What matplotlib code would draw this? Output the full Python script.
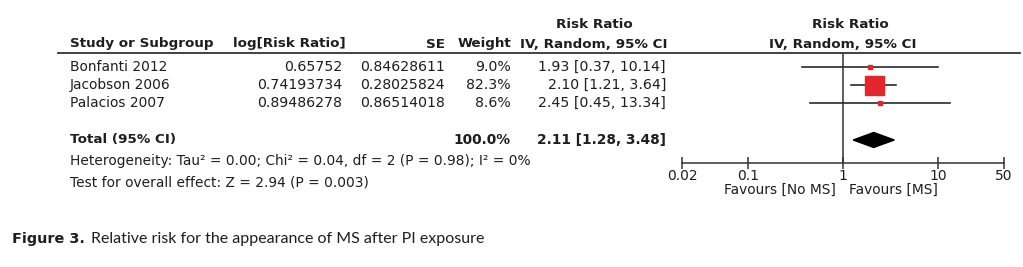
import matplotlib
matplotlib.use("Agg")
import matplotlib.pyplot as plt
import matplotlib.transforms as mtransforms
from matplotlib.lines import Line2D
from matplotlib.patches import Polygon
import numpy as np

# ---------------- data ----------------
studies = ["Bonfanti 2012", "Jacobson 2006", "Palacios 2007"]
log_rr = ["0.65752", "0.74193734", "0.89486278"]
se = ["0.84628611", "0.28025824", "0.86514018"]
weights = [9.0, 82.3, 8.6]
rr = [1.93, 2.10, 2.45]
ci_low = [0.37, 1.21, 0.45]
ci_high = [10.14, 3.64, 13.34]
total_weight = 100.0
total_rr = 2.11
total_low = 1.28
total_high = 3.48
heterogeneity = "Heterogeneity: Tau\u00b2 = 0.00; Chi\u00b2 = 0.04, df = 2 (P = 0.98); I\u00b2 = 0%"
overall = "Test for overall effect: Z = 2.94 (P = 0.003)"
xticks = [0.02, 0.1, 1, 10, 50]
xtick_labels = ["0.02", "0.1", "1", "10", "50"]
favours_left = "Favours [No MS]"
favours_right = "Favours [MS]"
caption_bold = "Figure 3."
caption_text = "Relative risk for the appearance of MS after PI exposure"

# ---------------- style ----------------
W, H = 1023, 267
DPI = 100
TXT = "#1e1e1e"
RED = "#e3262b"
FONT = "DejaVu Sans"
FS_BOLD = 9.7
FS_TXT = 9.9
FS_NUM = 10.2
marker_px = [4.5, 19, 4.5]

fig = plt.figure(figsize=(W / DPI, H / DPI), dpi=DPI)
fig.patch.set_facecolor("white")

# pixel transform (origin top-left)
px = mtransforms.Affine2D().scale(1 / W, -1 / H).translate(0, 1) + fig.transFigure

row_y0, row_dy = 67, 17.8
top_px, axis_px = 53, 163
x_left_px, x_right_px = 682, 1004

ax = fig.add_axes([x_left_px / W, 1 - axis_px / H,
                   (x_right_px - x_left_px) / W, (axis_px - top_px) / H])
ax.set_xscale("log")
ax.set_xlim(xticks[0], xticks[-1])
ax.set_ylim((axis_px - row_y0) / row_dy, (top_px - row_y0) / row_dy)
ax.patch.set_alpha(0)
for s in ["top", "left", "right"]:
    ax.spines[s].set_visible(False)
ax.spines["bottom"].set_color("#333333")
ax.spines["bottom"].set_linewidth(1.1)
ax.set_yticks([])
ax.set_xticks(xticks)
ax.set_xticklabels(xtick_labels, fontsize=10, color=TXT, family=FONT)
ax.xaxis.set_minor_locator(matplotlib.ticker.NullLocator())
ax.tick_params(axis="x", direction="inout", length=9, width=1.1, color="#333333", pad=0)

ax.axvline(1, color="#333333", lw=1.1, zorder=1)

rows = np.arange(len(studies))
for i, y in enumerate(rows):
    ax.plot([ci_low[i], ci_high[i]], [y, y], color="#2a2a2a", lw=1.2, zorder=2)
    ax.plot([rr[i]], [y], marker="s", ms=marker_px[i] * 72 / DPI,
            color=RED, mec=RED, zorder=3, ls="none")

total_row = 4.1
dh = 7.5 / row_dy
diamond = Polygon([[total_low, total_row], [total_rr, total_row - dh],
                   [total_high, total_row], [total_rr, total_row + dh]],
                  closed=True, facecolor="black", edgecolor="black", zorder=3)
ax.add_patch(diamond)

# row-based transform for table text
row_tr = mtransforms.blended_transform_factory(px, ax.transData)

def t(x, y, s, ha="left", bold=False, tr=row_tr, size=FS_TXT, va="center", family=FONT):
    fig.text(x, y, s, transform=tr, ha=ha, va=va, fontsize=size, color=TXT,
             family=family, fontweight="bold" if bold else "normal")

# headers
t(70, 44, "Study or Subgroup", bold=True, tr=px, size=FS_BOLD)
t(233, 44, "log[Risk Ratio]", bold=True, tr=px, size=FS_BOLD)
t(445, 44, "SE", ha="right", bold=True, tr=px, size=FS_BOLD)
t(511, 44, "Weight", ha="right", bold=True, tr=px, size=FS_BOLD)
t(594, 25, "Risk Ratio", ha="center", bold=True, tr=px, size=FS_BOLD)
t(594, 44, "IV, Random, 95% CI", ha="center", bold=True, tr=px, size=FS_BOLD)
t(850, 25, "Risk Ratio", ha="center", bold=True, tr=px, size=FS_BOLD)
t(843, 44, "IV, Random, 95% CI", ha="center", bold=True, tr=px, size=FS_BOLD)

fig.add_artist(Line2D([58 / W, 1020 / W], [1 - top_px / H, 1 - top_px / H],
                      transform=fig.transFigure, color="#333333", lw=1.3))

for i, y in enumerate(rows):
    t(70, y, studies[i])
    t(342, y, log_rr[i], ha="right", size=FS_NUM)
    t(445, y, se[i], ha="right", size=FS_NUM)
    t(511, y, f"{weights[i]:.1f}%", ha="right", size=FS_NUM)
    t(666, y, f"{rr[i]:.2f} [{ci_low[i]:.2f}, {ci_high[i]:.2f}]", ha="right", size=FS_NUM)

t(70, total_row, "Total (95% CI)", bold=True, size=FS_BOLD)
t(511, total_row, f"{total_weight:.1f}%", ha="right", bold=True, size=FS_BOLD + 0.2)
t(666, total_row, f"{total_rr:.2f} [{total_low:.2f}, {total_high:.2f}]", ha="right",
  bold=True, size=FS_BOLD + 0.2)

t(70, 161, heterogeneity, tr=px, size=9.9)
t(70, 182, overall, tr=px, size=9.9)

t(836, 190, favours_left, ha="right", tr=px, size=9.9)
t(849, 190, favours_right, ha="left", tr=px, size=9.9)

# caption
fig.text(12, 239, caption_bold, transform=px, ha="left", va="center",
         fontsize=10.4, fontweight="bold", family="DejaVu Sans", color=TXT)
fig.text(91, 239, caption_text, transform=px, ha="left", va="center",
         fontsize=11.5, family="Lato", color=TXT)

fig.savefig("out.png", dpi=DPI, facecolor="white")
